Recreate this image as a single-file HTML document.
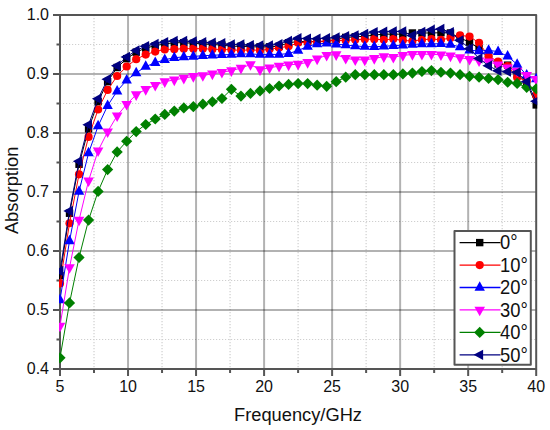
<!DOCTYPE html>
<html><head><meta charset="utf-8"><style>html,body{margin:0;padding:0;background:#fff;}svg{display:block;}text{font-family:"Liberation Sans",sans-serif;fill:#111;}</style></head><body>
<svg width="550" height="430" viewBox="0 0 550 430">
<rect width="550" height="430" fill="#fff"/>
<path d="M94.01 15V369M162.04 15V369M230.07 15V369M298.1 15V369M366.13 15V369M434.16 15V369M502.19 15V369M60 339.5H536.2M60 280.5H536.2M60 221.5H536.2M60 162.5H536.2M60 103.5H536.2M60 44.5H536.2" stroke="#cfcfcf" stroke-width="1.2" stroke-dasharray="1.2 1.8" fill="none"/>
<path d="M128.03 15V369" stroke="#000" stroke-opacity="0.3" stroke-width="2" fill="none"/>
<path d="M196.06 15V369" stroke="#000" stroke-opacity="0.3" stroke-width="2" fill="none"/>
<path d="M264.09 15V369" stroke="#000" stroke-opacity="0.3" stroke-width="2" fill="none"/>
<path d="M332.11 15V369" stroke="#000" stroke-opacity="0.3" stroke-width="2" fill="none"/>
<path d="M400.14 15V369" stroke="#000" stroke-opacity="0.3" stroke-width="2" fill="none"/>
<path d="M468.17 15V369" stroke="#000" stroke-opacity="0.3" stroke-width="2" fill="none"/>
<path d="M60 310H536.2" stroke="#000" stroke-opacity="0.3" stroke-width="2" fill="none"/>
<path d="M60 251H536.2" stroke="#000" stroke-opacity="0.3" stroke-width="2" fill="none"/>
<path d="M60 192H536.2" stroke="#000" stroke-opacity="0.3" stroke-width="2" fill="none"/>
<path d="M60 133H536.2" stroke="#000" stroke-opacity="0.3" stroke-width="2" fill="none"/>
<path d="M60 74H536.2" stroke="#000" stroke-opacity="0.3" stroke-width="2" fill="none"/>
<rect x="60" y="15" width="476.2" height="354" fill="none" stroke="#555555" stroke-width="2" stroke-linejoin="round"/>
<path d="M60 369V376M128.03 369V376M196.06 369V376M264.09 369V376M332.11 369V376M400.14 369V376M468.17 369V376M536.2 369V376M94.01 369V373M162.04 369V373M230.07 369V373M298.1 369V373M366.13 369V373M434.16 369V373M502.19 369V373M53 369H60M53 310H60M53 251H60M53 192H60M53 133H60M53 74H60M53 15H60M56.5 339.5H60M56.5 280.5H60M56.5 221.5H60M56.5 162.5H60M56.5 103.5H60M56.5 44.5H60" stroke="#555555" stroke-width="2" fill="none"/>
<defs><clipPath id="pc"><rect x="59" y="14" width="478.2" height="356"/></clipPath></defs>
<g clip-path="url(#pc)">
<polyline points="60,275.78 69.52,213.24 79.05,164.27 88.57,128.87 98.1,101.73 107.62,81.67 117.14,67.51 126.67,58.66 136.19,52.17 145.72,48.04 155.24,45.68 164.76,43.91 174.29,42.73 183.81,42.73 193.34,43.32 202.86,43.91 212.38,44.5 221.91,45.09 231.43,46.27 240.96,46.27 250.48,46.86 260,46.86 269.53,46.86 279.05,46.27 288.58,42.73 298.1,41.55 307.62,41.55 317.15,41.55 326.67,41.55 336.2,39.19 345.72,37.42 355.24,36.83 364.77,36.24 374.29,35.06 383.82,34.17 393.34,34.17 402.86,34.17 412.39,32.99 421.91,32.99 431.44,32.99 440.96,32.7 450.48,32.99 460.01,38.01 469.53,42.14 479.06,48.63 488.58,58.07 498.1,63.97 507.63,65.15 517.15,74 526.68,82.85 536.2,104.92" fill="none" stroke="#000000" stroke-width="1" stroke-linejoin="round"/>
<rect x="56.3" y="272.08" width="7.4" height="7.4" fill="#000000"/>
<rect x="65.82" y="209.54" width="7.4" height="7.4" fill="#000000"/>
<rect x="75.35" y="160.57" width="7.4" height="7.4" fill="#000000"/>
<rect x="84.87" y="125.17" width="7.4" height="7.4" fill="#000000"/>
<rect x="94.4" y="98.03" width="7.4" height="7.4" fill="#000000"/>
<rect x="103.92" y="77.97" width="7.4" height="7.4" fill="#000000"/>
<rect x="113.44" y="63.81" width="7.4" height="7.4" fill="#000000"/>
<rect x="122.97" y="54.96" width="7.4" height="7.4" fill="#000000"/>
<rect x="132.49" y="48.47" width="7.4" height="7.4" fill="#000000"/>
<rect x="142.02" y="44.34" width="7.4" height="7.4" fill="#000000"/>
<rect x="151.54" y="41.98" width="7.4" height="7.4" fill="#000000"/>
<rect x="161.06" y="40.21" width="7.4" height="7.4" fill="#000000"/>
<rect x="170.59" y="39.03" width="7.4" height="7.4" fill="#000000"/>
<rect x="180.11" y="39.03" width="7.4" height="7.4" fill="#000000"/>
<rect x="189.64" y="39.62" width="7.4" height="7.4" fill="#000000"/>
<rect x="199.16" y="40.21" width="7.4" height="7.4" fill="#000000"/>
<rect x="208.68" y="40.8" width="7.4" height="7.4" fill="#000000"/>
<rect x="218.21" y="41.39" width="7.4" height="7.4" fill="#000000"/>
<rect x="227.73" y="42.57" width="7.4" height="7.4" fill="#000000"/>
<rect x="237.26" y="42.57" width="7.4" height="7.4" fill="#000000"/>
<rect x="246.78" y="43.16" width="7.4" height="7.4" fill="#000000"/>
<rect x="256.3" y="43.16" width="7.4" height="7.4" fill="#000000"/>
<rect x="265.83" y="43.16" width="7.4" height="7.4" fill="#000000"/>
<rect x="275.35" y="42.57" width="7.4" height="7.4" fill="#000000"/>
<rect x="284.88" y="39.03" width="7.4" height="7.4" fill="#000000"/>
<rect x="294.4" y="37.85" width="7.4" height="7.4" fill="#000000"/>
<rect x="303.92" y="37.85" width="7.4" height="7.4" fill="#000000"/>
<rect x="313.45" y="37.85" width="7.4" height="7.4" fill="#000000"/>
<rect x="322.97" y="37.85" width="7.4" height="7.4" fill="#000000"/>
<rect x="332.5" y="35.49" width="7.4" height="7.4" fill="#000000"/>
<rect x="342.02" y="33.72" width="7.4" height="7.4" fill="#000000"/>
<rect x="351.54" y="33.13" width="7.4" height="7.4" fill="#000000"/>
<rect x="361.07" y="32.54" width="7.4" height="7.4" fill="#000000"/>
<rect x="370.59" y="31.36" width="7.4" height="7.4" fill="#000000"/>
<rect x="380.12" y="30.47" width="7.4" height="7.4" fill="#000000"/>
<rect x="389.64" y="30.47" width="7.4" height="7.4" fill="#000000"/>
<rect x="399.16" y="30.47" width="7.4" height="7.4" fill="#000000"/>
<rect x="408.69" y="29.29" width="7.4" height="7.4" fill="#000000"/>
<rect x="418.21" y="29.29" width="7.4" height="7.4" fill="#000000"/>
<rect x="427.74" y="29.29" width="7.4" height="7.4" fill="#000000"/>
<rect x="437.26" y="29" width="7.4" height="7.4" fill="#000000"/>
<rect x="446.78" y="29.29" width="7.4" height="7.4" fill="#000000"/>
<rect x="456.31" y="34.31" width="7.4" height="7.4" fill="#000000"/>
<rect x="465.83" y="38.44" width="7.4" height="7.4" fill="#000000"/>
<rect x="475.36" y="44.93" width="7.4" height="7.4" fill="#000000"/>
<rect x="484.88" y="54.37" width="7.4" height="7.4" fill="#000000"/>
<rect x="494.4" y="60.27" width="7.4" height="7.4" fill="#000000"/>
<rect x="503.93" y="61.45" width="7.4" height="7.4" fill="#000000"/>
<rect x="513.45" y="70.3" width="7.4" height="7.4" fill="#000000"/>
<rect x="522.98" y="79.15" width="7.4" height="7.4" fill="#000000"/>
<rect x="532.5" y="101.22" width="7.4" height="7.4" fill="#000000"/>
<polyline points="60,283.45 69.52,223.27 79.05,174.3 88.57,136.89 98.1,109.52 107.62,89.93 117.14,76.01 126.67,66.51 136.19,59.25 145.72,54.53 155.24,51.58 164.76,49.4 174.29,49.22 183.81,48.63 193.34,48.63 202.86,48.63 212.38,49.22 221.91,49.51 231.43,49.81 240.96,50.4 250.48,49.81 260,50.4 269.53,49.22 279.05,47.8 288.58,46.27 298.1,42.85 307.62,42.14 317.15,41.55 326.67,40.96 336.2,40.43 345.72,40.43 355.24,39.78 364.77,39.19 374.29,39.19 383.82,39.78 393.34,39.07 402.86,40.37 412.39,41.08 421.91,39.78 431.44,39.07 440.96,39.78 450.48,38.01 460.01,35.35 469.53,36.53 479.06,42.79 488.58,56.3 498.1,61.61 507.63,65.98 517.15,77.54 526.68,80.73 536.2,95.3" fill="none" stroke="#ff0000" stroke-width="1" stroke-linejoin="round"/>
<circle cx="60" cy="283.45" r="4.1" fill="#ff0000"/>
<circle cx="69.52" cy="223.27" r="4.1" fill="#ff0000"/>
<circle cx="79.05" cy="174.3" r="4.1" fill="#ff0000"/>
<circle cx="88.57" cy="136.89" r="4.1" fill="#ff0000"/>
<circle cx="98.1" cy="109.52" r="4.1" fill="#ff0000"/>
<circle cx="107.62" cy="89.93" r="4.1" fill="#ff0000"/>
<circle cx="117.14" cy="76.01" r="4.1" fill="#ff0000"/>
<circle cx="126.67" cy="66.51" r="4.1" fill="#ff0000"/>
<circle cx="136.19" cy="59.25" r="4.1" fill="#ff0000"/>
<circle cx="145.72" cy="54.53" r="4.1" fill="#ff0000"/>
<circle cx="155.24" cy="51.58" r="4.1" fill="#ff0000"/>
<circle cx="164.76" cy="49.4" r="4.1" fill="#ff0000"/>
<circle cx="174.29" cy="49.22" r="4.1" fill="#ff0000"/>
<circle cx="183.81" cy="48.63" r="4.1" fill="#ff0000"/>
<circle cx="193.34" cy="48.63" r="4.1" fill="#ff0000"/>
<circle cx="202.86" cy="48.63" r="4.1" fill="#ff0000"/>
<circle cx="212.38" cy="49.22" r="4.1" fill="#ff0000"/>
<circle cx="221.91" cy="49.51" r="4.1" fill="#ff0000"/>
<circle cx="231.43" cy="49.81" r="4.1" fill="#ff0000"/>
<circle cx="240.96" cy="50.4" r="4.1" fill="#ff0000"/>
<circle cx="250.48" cy="49.81" r="4.1" fill="#ff0000"/>
<circle cx="260" cy="50.4" r="4.1" fill="#ff0000"/>
<circle cx="269.53" cy="49.22" r="4.1" fill="#ff0000"/>
<circle cx="279.05" cy="47.8" r="4.1" fill="#ff0000"/>
<circle cx="288.58" cy="46.27" r="4.1" fill="#ff0000"/>
<circle cx="298.1" cy="42.85" r="4.1" fill="#ff0000"/>
<circle cx="307.62" cy="42.14" r="4.1" fill="#ff0000"/>
<circle cx="317.15" cy="41.55" r="4.1" fill="#ff0000"/>
<circle cx="326.67" cy="40.96" r="4.1" fill="#ff0000"/>
<circle cx="336.2" cy="40.43" r="4.1" fill="#ff0000"/>
<circle cx="345.72" cy="40.43" r="4.1" fill="#ff0000"/>
<circle cx="355.24" cy="39.78" r="4.1" fill="#ff0000"/>
<circle cx="364.77" cy="39.19" r="4.1" fill="#ff0000"/>
<circle cx="374.29" cy="39.19" r="4.1" fill="#ff0000"/>
<circle cx="383.82" cy="39.78" r="4.1" fill="#ff0000"/>
<circle cx="393.34" cy="39.07" r="4.1" fill="#ff0000"/>
<circle cx="402.86" cy="40.37" r="4.1" fill="#ff0000"/>
<circle cx="412.39" cy="41.08" r="4.1" fill="#ff0000"/>
<circle cx="421.91" cy="39.78" r="4.1" fill="#ff0000"/>
<circle cx="431.44" cy="39.07" r="4.1" fill="#ff0000"/>
<circle cx="440.96" cy="39.78" r="4.1" fill="#ff0000"/>
<circle cx="450.48" cy="38.01" r="4.1" fill="#ff0000"/>
<circle cx="460.01" cy="35.35" r="4.1" fill="#ff0000"/>
<circle cx="469.53" cy="36.53" r="4.1" fill="#ff0000"/>
<circle cx="479.06" cy="42.79" r="4.1" fill="#ff0000"/>
<circle cx="488.58" cy="56.3" r="4.1" fill="#ff0000"/>
<circle cx="498.1" cy="61.61" r="4.1" fill="#ff0000"/>
<circle cx="507.63" cy="65.98" r="4.1" fill="#ff0000"/>
<circle cx="517.15" cy="77.54" r="4.1" fill="#ff0000"/>
<circle cx="526.68" cy="80.73" r="4.1" fill="#ff0000"/>
<circle cx="536.2" cy="95.3" r="4.1" fill="#ff0000"/>
<polyline points="60,299.97 69.52,240.97 79.05,191.41 88.57,153.06 98.1,126.04 107.62,105.68 117.14,91.11 126.67,80.14 136.19,73 145.72,66.51 155.24,62.79 164.76,59.72 174.29,57.72 183.81,56.89 193.34,56.42 202.86,55.71 212.38,55.3 221.91,54.77 231.43,54.53 240.96,53.94 250.48,54 260,54.41 269.53,54.41 279.05,54.41 288.58,53.59 298.1,50.46 307.62,46.45 317.15,43.91 326.67,43.2 336.2,44.09 345.72,44.97 355.24,45.97 364.77,46.56 374.29,46.74 383.82,46.27 393.34,45.68 402.86,45.09 412.39,44.5 421.91,43.91 431.44,43.91 440.96,43.62 450.48,44.5 460.01,46.92 469.53,50.22 479.06,50.99 488.58,50.4 498.1,51.58 507.63,56.3 517.15,64.44 526.68,75.18 536.2,79.01" fill="none" stroke="#0000ff" stroke-width="1" stroke-linejoin="round"/>
<polygon points="60,293.77 65.2,303.27 54.8,303.27" fill="#0000ff"/>
<polygon points="69.52,234.77 74.72,244.27 64.32,244.27" fill="#0000ff"/>
<polygon points="79.05,185.21 84.25,194.71 73.85,194.71" fill="#0000ff"/>
<polygon points="88.57,146.86 93.77,156.36 83.37,156.36" fill="#0000ff"/>
<polygon points="98.1,119.84 103.3,129.34 92.9,129.34" fill="#0000ff"/>
<polygon points="107.62,99.48 112.82,108.98 102.42,108.98" fill="#0000ff"/>
<polygon points="117.14,84.91 122.34,94.41 111.94,94.41" fill="#0000ff"/>
<polygon points="126.67,73.94 131.87,83.44 121.47,83.44" fill="#0000ff"/>
<polygon points="136.19,66.8 141.39,76.3 130.99,76.3" fill="#0000ff"/>
<polygon points="145.72,60.31 150.92,69.81 140.52,69.81" fill="#0000ff"/>
<polygon points="155.24,56.59 160.44,66.09 150.04,66.09" fill="#0000ff"/>
<polygon points="164.76,53.52 169.96,63.02 159.56,63.02" fill="#0000ff"/>
<polygon points="174.29,51.52 179.49,61.02 169.09,61.02" fill="#0000ff"/>
<polygon points="183.81,50.69 189.01,60.19 178.61,60.19" fill="#0000ff"/>
<polygon points="193.34,50.22 198.54,59.72 188.14,59.72" fill="#0000ff"/>
<polygon points="202.86,49.51 208.06,59.01 197.66,59.01" fill="#0000ff"/>
<polygon points="212.38,49.1 217.58,58.6 207.18,58.6" fill="#0000ff"/>
<polygon points="221.91,48.57 227.11,58.07 216.71,58.07" fill="#0000ff"/>
<polygon points="231.43,48.33 236.63,57.83 226.23,57.83" fill="#0000ff"/>
<polygon points="240.96,47.74 246.16,57.24 235.76,57.24" fill="#0000ff"/>
<polygon points="250.48,47.8 255.68,57.3 245.28,57.3" fill="#0000ff"/>
<polygon points="260,48.21 265.2,57.71 254.8,57.71" fill="#0000ff"/>
<polygon points="269.53,48.21 274.73,57.71 264.33,57.71" fill="#0000ff"/>
<polygon points="279.05,48.21 284.25,57.71 273.85,57.71" fill="#0000ff"/>
<polygon points="288.58,47.39 293.78,56.89 283.38,56.89" fill="#0000ff"/>
<polygon points="298.1,44.26 303.3,53.76 292.9,53.76" fill="#0000ff"/>
<polygon points="307.62,40.25 312.82,49.75 302.42,49.75" fill="#0000ff"/>
<polygon points="317.15,37.71 322.35,47.21 311.95,47.21" fill="#0000ff"/>
<polygon points="326.67,37 331.87,46.5 321.47,46.5" fill="#0000ff"/>
<polygon points="336.2,37.89 341.4,47.39 331,47.39" fill="#0000ff"/>
<polygon points="345.72,38.77 350.92,48.27 340.52,48.27" fill="#0000ff"/>
<polygon points="355.24,39.77 360.44,49.27 350.04,49.27" fill="#0000ff"/>
<polygon points="364.77,40.36 369.97,49.86 359.57,49.86" fill="#0000ff"/>
<polygon points="374.29,40.54 379.49,50.04 369.09,50.04" fill="#0000ff"/>
<polygon points="383.82,40.07 389.02,49.57 378.62,49.57" fill="#0000ff"/>
<polygon points="393.34,39.48 398.54,48.98 388.14,48.98" fill="#0000ff"/>
<polygon points="402.86,38.89 408.06,48.39 397.66,48.39" fill="#0000ff"/>
<polygon points="412.39,38.3 417.59,47.8 407.19,47.8" fill="#0000ff"/>
<polygon points="421.91,37.71 427.11,47.21 416.71,47.21" fill="#0000ff"/>
<polygon points="431.44,37.71 436.64,47.21 426.24,47.21" fill="#0000ff"/>
<polygon points="440.96,37.42 446.16,46.92 435.76,46.92" fill="#0000ff"/>
<polygon points="450.48,38.3 455.68,47.8 445.28,47.8" fill="#0000ff"/>
<polygon points="460.01,40.72 465.21,50.22 454.81,50.22" fill="#0000ff"/>
<polygon points="469.53,44.02 474.73,53.52 464.33,53.52" fill="#0000ff"/>
<polygon points="479.06,44.79 484.26,54.29 473.86,54.29" fill="#0000ff"/>
<polygon points="488.58,44.2 493.78,53.7 483.38,53.7" fill="#0000ff"/>
<polygon points="498.1,45.38 503.3,54.88 492.9,54.88" fill="#0000ff"/>
<polygon points="507.63,50.1 512.83,59.6 502.43,59.6" fill="#0000ff"/>
<polygon points="517.15,58.24 522.35,67.74 511.95,67.74" fill="#0000ff"/>
<polygon points="526.68,68.98 531.88,78.48 521.48,78.48" fill="#0000ff"/>
<polygon points="536.2,72.81 541.4,82.31 531,82.31" fill="#0000ff"/>
<polyline points="60,325.93 69.52,267.52 79.05,220.03 88.57,180.79 98.1,150.7 107.62,131.82 117.14,115.71 126.67,104.27 136.19,94.65 145.72,89.34 155.24,85.21 164.76,81.67 174.29,79.9 183.81,78.13 193.34,76.36 202.86,75.48 212.38,73.88 221.91,72.23 231.43,70.58 240.96,68.1 250.48,64.56 260,69.58 269.53,67.81 279.05,66.09 288.58,64.86 298.1,64.15 307.62,62.38 317.15,58.84 326.67,55.18 336.2,54.65 345.72,58.25 355.24,59.72 364.77,59.84 374.29,58.42 383.82,56.6 393.34,57.19 402.86,55.42 412.39,54.41 421.91,54.24 431.44,54.24 440.96,54.82 450.48,55.89 460.01,57.6 469.53,59.25 479.06,60.78 488.58,61.79 498.1,64.74 507.63,67.81 517.15,71.05 526.68,75.3 536.2,79.31" fill="none" stroke="#ff00ff" stroke-width="1" stroke-linejoin="round"/>
<polygon points="54.7,322.63 65.3,322.63 60,332.23" fill="#ff00ff"/>
<polygon points="64.22,264.22 74.82,264.22 69.52,273.82" fill="#ff00ff"/>
<polygon points="73.75,216.73 84.35,216.73 79.05,226.33" fill="#ff00ff"/>
<polygon points="83.27,177.49 93.87,177.49 88.57,187.09" fill="#ff00ff"/>
<polygon points="92.8,147.4 103.4,147.4 98.1,157" fill="#ff00ff"/>
<polygon points="102.32,128.52 112.92,128.52 107.62,138.12" fill="#ff00ff"/>
<polygon points="111.84,112.41 122.44,112.41 117.14,122.01" fill="#ff00ff"/>
<polygon points="121.37,100.97 131.97,100.97 126.67,110.57" fill="#ff00ff"/>
<polygon points="130.89,91.35 141.49,91.35 136.19,100.95" fill="#ff00ff"/>
<polygon points="140.42,86.04 151.02,86.04 145.72,95.64" fill="#ff00ff"/>
<polygon points="149.94,81.91 160.54,81.91 155.24,91.51" fill="#ff00ff"/>
<polygon points="159.46,78.37 170.06,78.37 164.76,87.97" fill="#ff00ff"/>
<polygon points="168.99,76.6 179.59,76.6 174.29,86.2" fill="#ff00ff"/>
<polygon points="178.51,74.83 189.11,74.83 183.81,84.43" fill="#ff00ff"/>
<polygon points="188.04,73.06 198.64,73.06 193.34,82.66" fill="#ff00ff"/>
<polygon points="197.56,72.18 208.16,72.18 202.86,81.78" fill="#ff00ff"/>
<polygon points="207.08,70.58 217.68,70.58 212.38,80.18" fill="#ff00ff"/>
<polygon points="216.61,68.93 227.21,68.93 221.91,78.53" fill="#ff00ff"/>
<polygon points="226.13,67.28 236.73,67.28 231.43,76.88" fill="#ff00ff"/>
<polygon points="235.66,64.8 246.26,64.8 240.96,74.4" fill="#ff00ff"/>
<polygon points="245.18,61.26 255.78,61.26 250.48,70.86" fill="#ff00ff"/>
<polygon points="254.7,66.28 265.3,66.28 260,75.88" fill="#ff00ff"/>
<polygon points="264.23,64.51 274.83,64.51 269.53,74.11" fill="#ff00ff"/>
<polygon points="273.75,62.79 284.35,62.79 279.05,72.39" fill="#ff00ff"/>
<polygon points="283.28,61.56 293.88,61.56 288.58,71.16" fill="#ff00ff"/>
<polygon points="292.8,60.85 303.4,60.85 298.1,70.45" fill="#ff00ff"/>
<polygon points="302.32,59.08 312.92,59.08 307.62,68.68" fill="#ff00ff"/>
<polygon points="311.85,55.54 322.45,55.54 317.15,65.14" fill="#ff00ff"/>
<polygon points="321.37,51.88 331.97,51.88 326.67,61.48" fill="#ff00ff"/>
<polygon points="330.9,51.35 341.5,51.35 336.2,60.95" fill="#ff00ff"/>
<polygon points="340.42,54.95 351.02,54.95 345.72,64.55" fill="#ff00ff"/>
<polygon points="349.94,56.42 360.54,56.42 355.24,66.02" fill="#ff00ff"/>
<polygon points="359.47,56.54 370.07,56.54 364.77,66.14" fill="#ff00ff"/>
<polygon points="368.99,55.12 379.59,55.12 374.29,64.72" fill="#ff00ff"/>
<polygon points="378.52,53.3 389.12,53.3 383.82,62.9" fill="#ff00ff"/>
<polygon points="388.04,53.89 398.64,53.89 393.34,63.48" fill="#ff00ff"/>
<polygon points="397.56,52.12 408.16,52.12 402.86,61.72" fill="#ff00ff"/>
<polygon points="407.09,51.11 417.69,51.11 412.39,60.71" fill="#ff00ff"/>
<polygon points="416.61,50.94 427.21,50.94 421.91,60.54" fill="#ff00ff"/>
<polygon points="426.14,50.94 436.74,50.94 431.44,60.54" fill="#ff00ff"/>
<polygon points="435.66,51.52 446.26,51.52 440.96,61.12" fill="#ff00ff"/>
<polygon points="445.18,52.59 455.78,52.59 450.48,62.19" fill="#ff00ff"/>
<polygon points="454.71,54.3 465.31,54.3 460.01,63.9" fill="#ff00ff"/>
<polygon points="464.23,55.95 474.83,55.95 469.53,65.55" fill="#ff00ff"/>
<polygon points="473.76,57.48 484.36,57.48 479.06,67.08" fill="#ff00ff"/>
<polygon points="483.28,58.49 493.88,58.49 488.58,68.09" fill="#ff00ff"/>
<polygon points="492.8,61.44 503.4,61.44 498.1,71.04" fill="#ff00ff"/>
<polygon points="502.33,64.51 512.93,64.51 507.63,74.11" fill="#ff00ff"/>
<polygon points="511.85,67.75 522.45,67.75 517.15,77.35" fill="#ff00ff"/>
<polygon points="521.38,72 531.98,72 526.68,81.6" fill="#ff00ff"/>
<polygon points="530.9,76.01 541.5,76.01 536.2,85.61" fill="#ff00ff"/>
<polyline points="60,357.79 69.52,302.92 79.05,257.49 88.57,220.03 98.1,191.41 107.62,169.58 117.14,151.88 126.67,141.26 136.19,131.58 145.72,124.5 155.24,119.02 164.76,114.41 174.29,111.11 183.81,107.92 193.34,106.63 202.86,104.21 212.38,101.73 221.91,98.49 231.43,89.34 240.96,96.12 250.48,93.47 260,90.93 269.53,88.51 279.05,85.98 288.58,84.38 298.1,83.62 307.62,83.62 317.15,85.21 326.67,86.33 336.2,81.67 345.72,77.19 355.24,74.71 364.77,74.71 374.29,74.71 383.82,74.71 393.34,74.71 402.86,73.88 412.39,73.12 421.91,71.52 431.44,70.58 440.96,72.23 450.48,73.12 460.01,74.71 469.53,76.36 479.06,77.19 488.58,78.48 498.1,79.72 507.63,82.26 517.15,83.44 526.68,87.28 536.2,88.75" fill="none" stroke="#008000" stroke-width="1" stroke-linejoin="round"/>
<polygon points="60,352.19 65.6,357.79 60,363.39 54.4,357.79" fill="#008000"/>
<polygon points="69.52,297.32 75.12,302.92 69.52,308.52 63.92,302.92" fill="#008000"/>
<polygon points="79.05,251.89 84.65,257.49 79.05,263.09 73.45,257.49" fill="#008000"/>
<polygon points="88.57,214.43 94.17,220.03 88.57,225.63 82.97,220.03" fill="#008000"/>
<polygon points="98.1,185.81 103.7,191.41 98.1,197.01 92.5,191.41" fill="#008000"/>
<polygon points="107.62,163.98 113.22,169.58 107.62,175.18 102.02,169.58" fill="#008000"/>
<polygon points="117.14,146.28 122.74,151.88 117.14,157.48 111.54,151.88" fill="#008000"/>
<polygon points="126.67,135.66 132.27,141.26 126.67,146.86 121.07,141.26" fill="#008000"/>
<polygon points="136.19,125.98 141.79,131.58 136.19,137.18 130.59,131.58" fill="#008000"/>
<polygon points="145.72,118.9 151.32,124.5 145.72,130.1 140.12,124.5" fill="#008000"/>
<polygon points="155.24,113.42 160.84,119.02 155.24,124.62 149.64,119.02" fill="#008000"/>
<polygon points="164.76,108.81 170.36,114.41 164.76,120.01 159.16,114.41" fill="#008000"/>
<polygon points="174.29,105.51 179.89,111.11 174.29,116.71 168.69,111.11" fill="#008000"/>
<polygon points="183.81,102.32 189.41,107.92 183.81,113.52 178.21,107.92" fill="#008000"/>
<polygon points="193.34,101.03 198.94,106.63 193.34,112.23 187.74,106.63" fill="#008000"/>
<polygon points="202.86,98.61 208.46,104.21 202.86,109.81 197.26,104.21" fill="#008000"/>
<polygon points="212.38,96.13 217.98,101.73 212.38,107.33 206.78,101.73" fill="#008000"/>
<polygon points="221.91,92.89 227.51,98.49 221.91,104.09 216.31,98.49" fill="#008000"/>
<polygon points="231.43,83.74 237.03,89.34 231.43,94.94 225.83,89.34" fill="#008000"/>
<polygon points="240.96,90.53 246.56,96.12 240.96,101.72 235.36,96.12" fill="#008000"/>
<polygon points="250.48,87.87 256.08,93.47 250.48,99.07 244.88,93.47" fill="#008000"/>
<polygon points="260,85.33 265.6,90.93 260,96.53 254.4,90.93" fill="#008000"/>
<polygon points="269.53,82.91 275.13,88.51 269.53,94.11 263.93,88.51" fill="#008000"/>
<polygon points="279.05,80.38 284.65,85.98 279.05,91.58 273.45,85.98" fill="#008000"/>
<polygon points="288.58,78.78 294.18,84.38 288.58,89.98 282.98,84.38" fill="#008000"/>
<polygon points="298.1,78.02 303.7,83.62 298.1,89.22 292.5,83.62" fill="#008000"/>
<polygon points="307.62,78.02 313.22,83.62 307.62,89.22 302.02,83.62" fill="#008000"/>
<polygon points="317.15,79.61 322.75,85.21 317.15,90.81 311.55,85.21" fill="#008000"/>
<polygon points="326.67,80.73 332.27,86.33 326.67,91.93 321.07,86.33" fill="#008000"/>
<polygon points="336.2,76.07 341.8,81.67 336.2,87.27 330.6,81.67" fill="#008000"/>
<polygon points="345.72,71.59 351.32,77.19 345.72,82.79 340.12,77.19" fill="#008000"/>
<polygon points="355.24,69.11 360.84,74.71 355.24,80.31 349.64,74.71" fill="#008000"/>
<polygon points="364.77,69.11 370.37,74.71 364.77,80.31 359.17,74.71" fill="#008000"/>
<polygon points="374.29,69.11 379.89,74.71 374.29,80.31 368.69,74.71" fill="#008000"/>
<polygon points="383.82,69.11 389.42,74.71 383.82,80.31 378.22,74.71" fill="#008000"/>
<polygon points="393.34,69.11 398.94,74.71 393.34,80.31 387.74,74.71" fill="#008000"/>
<polygon points="402.86,68.28 408.46,73.88 402.86,79.48 397.26,73.88" fill="#008000"/>
<polygon points="412.39,67.52 417.99,73.12 412.39,78.72 406.79,73.12" fill="#008000"/>
<polygon points="421.91,65.92 427.51,71.52 421.91,77.12 416.31,71.52" fill="#008000"/>
<polygon points="431.44,64.98 437.04,70.58 431.44,76.18 425.84,70.58" fill="#008000"/>
<polygon points="440.96,66.63 446.56,72.23 440.96,77.83 435.36,72.23" fill="#008000"/>
<polygon points="450.48,67.52 456.08,73.12 450.48,78.72 444.88,73.12" fill="#008000"/>
<polygon points="460.01,69.11 465.61,74.71 460.01,80.31 454.41,74.71" fill="#008000"/>
<polygon points="469.53,70.76 475.13,76.36 469.53,81.96 463.93,76.36" fill="#008000"/>
<polygon points="479.06,71.59 484.66,77.19 479.06,82.79 473.46,77.19" fill="#008000"/>
<polygon points="488.58,72.88 494.18,78.48 488.58,84.08 482.98,78.48" fill="#008000"/>
<polygon points="498.1,74.12 503.7,79.72 498.1,85.32 492.5,79.72" fill="#008000"/>
<polygon points="507.63,76.66 513.23,82.26 507.63,87.86 502.03,82.26" fill="#008000"/>
<polygon points="517.15,77.84 522.75,83.44 517.15,89.04 511.55,83.44" fill="#008000"/>
<polygon points="526.68,81.68 532.28,87.28 526.68,92.88 521.08,87.28" fill="#008000"/>
<polygon points="536.2,83.15 541.8,88.75 536.2,94.35 530.6,88.75" fill="#008000"/>
<polyline points="60,271.06 69.52,210.88 79.05,161.32 88.57,124.74 98.1,98.78 107.62,79.31 117.14,65.74 126.67,56.89 136.19,50.4 145.72,46.27 155.24,43.91 164.76,42.14 174.29,40.96 183.81,40.96 193.34,41.55 202.86,42.14 212.38,42.73 221.91,43.32 231.43,44.5 240.96,44.5 250.48,45.09 260,45.38 269.53,45.38 279.05,44.2 288.58,40.96 298.1,38.31 307.62,38.6 317.15,38.78 326.67,38.31 336.2,37.42 345.72,36.24 355.24,35.35 364.77,33.88 374.29,32.11 383.82,31.81 393.34,31.4 402.86,31.4 412.39,35.53 421.91,31.99 431.44,29.75 440.96,29.04 450.48,32.11 460.01,40.37 469.53,48.63 479.06,58.42 488.58,65.74 498.1,70.76 507.63,71.64 517.15,72.41 526.68,81.67 536.2,101.14" fill="none" stroke="#000080" stroke-width="1" stroke-linejoin="round"/>
<polygon points="53.8,271.06 63.4,265.86 63.4,276.26" fill="#000080"/>
<polygon points="63.32,210.88 72.92,205.68 72.92,216.08" fill="#000080"/>
<polygon points="72.85,161.32 82.45,156.12 82.45,166.52" fill="#000080"/>
<polygon points="82.37,124.74 91.97,119.54 91.97,129.94" fill="#000080"/>
<polygon points="91.9,98.78 101.5,93.58 101.5,103.98" fill="#000080"/>
<polygon points="101.42,79.31 111.02,74.11 111.02,84.51" fill="#000080"/>
<polygon points="110.94,65.74 120.54,60.54 120.54,70.94" fill="#000080"/>
<polygon points="120.47,56.89 130.07,51.69 130.07,62.09" fill="#000080"/>
<polygon points="129.99,50.4 139.59,45.2 139.59,55.6" fill="#000080"/>
<polygon points="139.52,46.27 149.12,41.07 149.12,51.47" fill="#000080"/>
<polygon points="149.04,43.91 158.64,38.71 158.64,49.11" fill="#000080"/>
<polygon points="158.56,42.14 168.16,36.94 168.16,47.34" fill="#000080"/>
<polygon points="168.09,40.96 177.69,35.76 177.69,46.16" fill="#000080"/>
<polygon points="177.61,40.96 187.21,35.76 187.21,46.16" fill="#000080"/>
<polygon points="187.14,41.55 196.74,36.35 196.74,46.75" fill="#000080"/>
<polygon points="196.66,42.14 206.26,36.94 206.26,47.34" fill="#000080"/>
<polygon points="206.18,42.73 215.78,37.53 215.78,47.93" fill="#000080"/>
<polygon points="215.71,43.32 225.31,38.12 225.31,48.52" fill="#000080"/>
<polygon points="225.23,44.5 234.83,39.3 234.83,49.7" fill="#000080"/>
<polygon points="234.76,44.5 244.36,39.3 244.36,49.7" fill="#000080"/>
<polygon points="244.28,45.09 253.88,39.89 253.88,50.29" fill="#000080"/>
<polygon points="253.8,45.38 263.4,40.18 263.4,50.58" fill="#000080"/>
<polygon points="263.33,45.38 272.93,40.18 272.93,50.58" fill="#000080"/>
<polygon points="272.85,44.2 282.45,39 282.45,49.4" fill="#000080"/>
<polygon points="282.38,40.96 291.98,35.76 291.98,46.16" fill="#000080"/>
<polygon points="291.9,38.31 301.5,33.11 301.5,43.51" fill="#000080"/>
<polygon points="301.42,38.6 311.02,33.4 311.02,43.8" fill="#000080"/>
<polygon points="310.95,38.78 320.55,33.58 320.55,43.98" fill="#000080"/>
<polygon points="320.47,38.31 330.07,33.11 330.07,43.51" fill="#000080"/>
<polygon points="330,37.42 339.6,32.22 339.6,42.62" fill="#000080"/>
<polygon points="339.52,36.24 349.12,31.04 349.12,41.44" fill="#000080"/>
<polygon points="349.04,35.35 358.64,30.15 358.64,40.55" fill="#000080"/>
<polygon points="358.57,33.88 368.17,28.68 368.17,39.08" fill="#000080"/>
<polygon points="368.09,32.11 377.69,26.91 377.69,37.31" fill="#000080"/>
<polygon points="377.62,31.81 387.22,26.61 387.22,37.02" fill="#000080"/>
<polygon points="387.14,31.4 396.74,26.2 396.74,36.6" fill="#000080"/>
<polygon points="396.66,31.4 406.26,26.2 406.26,36.6" fill="#000080"/>
<polygon points="406.19,35.53 415.79,30.33 415.79,40.73" fill="#000080"/>
<polygon points="415.71,31.99 425.31,26.79 425.31,37.19" fill="#000080"/>
<polygon points="425.24,29.75 434.84,24.55 434.84,34.95" fill="#000080"/>
<polygon points="434.76,29.04 444.36,23.84 444.36,34.24" fill="#000080"/>
<polygon points="444.28,32.11 453.88,26.91 453.88,37.31" fill="#000080"/>
<polygon points="453.81,40.37 463.41,35.17 463.41,45.57" fill="#000080"/>
<polygon points="463.33,48.63 472.93,43.43 472.93,53.83" fill="#000080"/>
<polygon points="472.86,58.42 482.46,53.22 482.46,63.62" fill="#000080"/>
<polygon points="482.38,65.74 491.98,60.54 491.98,70.94" fill="#000080"/>
<polygon points="491.9,70.76 501.5,65.56 501.5,75.96" fill="#000080"/>
<polygon points="501.43,71.64 511.03,66.44 511.03,76.84" fill="#000080"/>
<polygon points="510.95,72.41 520.55,67.21 520.55,77.61" fill="#000080"/>
<polygon points="520.48,81.67 530.08,76.47 530.08,86.87" fill="#000080"/>
<polygon points="530,101.14 539.6,95.94 539.6,106.34" fill="#000080"/>
</g>
<text x="60" y="391.5" font-size="16" text-anchor="middle">5</text>
<text x="128.03" y="391.5" font-size="16" text-anchor="middle">10</text>
<text x="196.06" y="391.5" font-size="16" text-anchor="middle">15</text>
<text x="264.09" y="391.5" font-size="16" text-anchor="middle">20</text>
<text x="332.11" y="391.5" font-size="16" text-anchor="middle">25</text>
<text x="400.14" y="391.5" font-size="16" text-anchor="middle">30</text>
<text x="468.17" y="391.5" font-size="16" text-anchor="middle">35</text>
<text x="536.2" y="391.5" font-size="16" text-anchor="middle">40</text>
<text x="49" y="373.8" font-size="16" text-anchor="end">0.4</text>
<text x="49" y="314.8" font-size="16" text-anchor="end">0.5</text>
<text x="49" y="255.8" font-size="16" text-anchor="end">0.6</text>
<text x="49" y="196.8" font-size="16" text-anchor="end">0.7</text>
<text x="49" y="137.8" font-size="16" text-anchor="end">0.8</text>
<text x="49" y="78.8" font-size="16" text-anchor="end">0.9</text>
<text x="49" y="19.8" font-size="16" text-anchor="end">1.0</text>
<text x="298" y="421.2" font-size="18.3" text-anchor="middle">Frequency/GHz</text>
<text transform="translate(18.1 190.4) rotate(-90)" font-size="18.3" text-anchor="middle">Absorption</text>
<rect x="454.5" y="231" width="76.3" height="133.8" fill="#fff" stroke="#555555" stroke-width="2" stroke-linejoin="round"/>
<path d="M459.6 242.6H500.5" stroke="#000000" stroke-width="1.3"/>
<rect x="476" y="238.9" width="7.4" height="7.4" fill="#000000"/>
<text transform="translate(500 249.4) scale(0.92 1)" font-size="20">0°</text>
<path d="M459.6 265.05H500.5" stroke="#ff0000" stroke-width="1.3"/>
<circle cx="479.7" cy="265.05" r="4.1" fill="#ff0000"/>
<text transform="translate(500 271.85) scale(0.92 1)" font-size="20">10°</text>
<path d="M459.6 287.5H500.5" stroke="#0000ff" stroke-width="1.3"/>
<polygon points="479.7,281.3 484.9,290.8 474.5,290.8" fill="#0000ff"/>
<text transform="translate(500 294.3) scale(0.92 1)" font-size="20">20°</text>
<path d="M459.6 309.95H500.5" stroke="#ff00ff" stroke-width="1.3"/>
<polygon points="474.4,306.65 485,306.65 479.7,316.25" fill="#ff00ff"/>
<text transform="translate(500 316.75) scale(0.92 1)" font-size="20">30°</text>
<path d="M459.6 332.4H500.5" stroke="#008000" stroke-width="1.3"/>
<polygon points="479.7,326.8 485.3,332.4 479.7,338 474.1,332.4" fill="#008000"/>
<text transform="translate(500 339.2) scale(0.92 1)" font-size="20">40°</text>
<path d="M459.6 354.85H500.5" stroke="#000080" stroke-width="1.3"/>
<polygon points="473.5,354.85 483.1,349.65 483.1,360.05" fill="#000080"/>
<text transform="translate(500 361.65) scale(0.92 1)" font-size="20">50°</text>
</svg></body></html>
